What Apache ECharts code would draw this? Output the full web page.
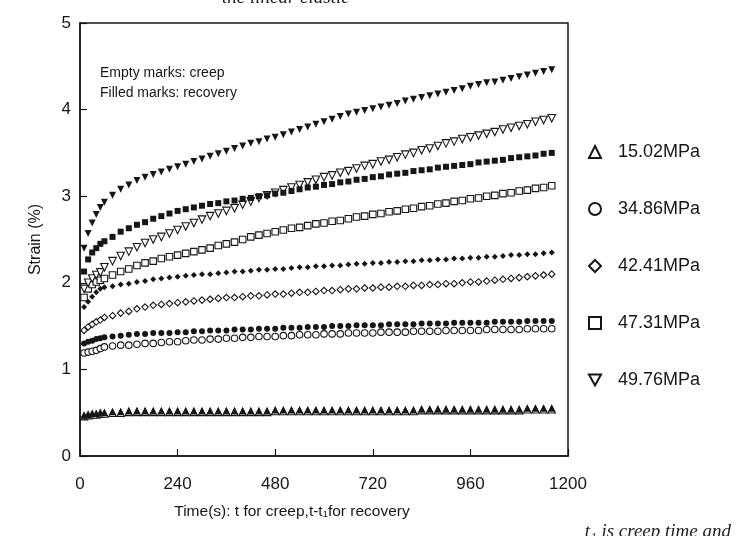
<!DOCTYPE html>
<html>
<head>
<meta charset="utf-8">
<title>Creep and recovery strain</title>
<script src="https://cdn.jsdelivr.net/npm/echarts@6/dist/echarts.min.js"></script>
<style>
  html, body { margin: 0; background: #fff; }
  #chart { width: 739px; height: 536px; }
</style>
</head>
<body>
<div id="chart"></div>
<script>
// Creep (empty marks) and recovery (filled marks) strain vs time, five stress levels.

// time axis, seconds (t for creep, t - t1 for recovery)
const times = [10, 20, 30, 40, 50, 60, 80, 100, 120, 140,
  160, 180, 200, 220, 240, 260, 280, 300, 320, 340,
  360, 380, 400, 420, 440, 460, 480, 500, 520, 540,
  560, 580, 600, 620, 640, 660, 680, 700, 720, 740,
  760, 780, 800, 820, 840, 860, 880, 900, 920, 940,
  960, 980, 1000, 1020, 1040, 1060, 1080, 1100, 1120, 1140,
  1160];

const stressLabels = ['15.02MPa', '34.86MPa', '42.41MPa', '47.31MPa', '49.76MPa'];
const xTicks = [0, 240, 480, 720, 960, 1200];
const yTicks = [0, 1, 2, 3, 4, 5];

// strain (%) - creep
const creep15 = [0.46, 0.47, 0.48, 0.48, 0.49, 0.49, 0.50, 0.50, 0.51, 0.51,
  0.51, 0.51, 0.51, 0.51, 0.51, 0.51, 0.51, 0.51, 0.51, 0.51,
  0.51, 0.51, 0.51, 0.51, 0.51, 0.51, 0.52, 0.52, 0.52, 0.52,
  0.52, 0.52, 0.52, 0.52, 0.52, 0.52, 0.52, 0.52, 0.52, 0.52,
  0.52, 0.52, 0.52, 0.52, 0.53, 0.53, 0.53, 0.53, 0.53, 0.53,
  0.53, 0.53, 0.53, 0.53, 0.53, 0.53, 0.53, 0.54, 0.54, 0.54,
  0.54];
const creep34 = [1.19, 1.20, 1.21, 1.22, 1.24, 1.26, 1.27, 1.28, 1.28, 1.29,
  1.30, 1.30, 1.31, 1.32, 1.32, 1.33, 1.34, 1.34, 1.35, 1.35,
  1.36, 1.36, 1.37, 1.37, 1.38, 1.38, 1.38, 1.39, 1.39, 1.40,
  1.40, 1.40, 1.41, 1.41, 1.41, 1.42, 1.42, 1.42, 1.42, 1.43,
  1.43, 1.43, 1.43, 1.44, 1.44, 1.44, 1.44, 1.45, 1.45, 1.45,
  1.45, 1.45, 1.46, 1.46, 1.46, 1.46, 1.46, 1.47, 1.47, 1.47,
  1.47];
const creep42 = [1.45, 1.49, 1.52, 1.55, 1.57, 1.60, 1.62, 1.65, 1.67, 1.70,
  1.72, 1.74, 1.75, 1.76, 1.77, 1.78, 1.79, 1.80, 1.81, 1.82,
  1.83, 1.83, 1.84, 1.85, 1.85, 1.86, 1.87, 1.87, 1.88, 1.89,
  1.89, 1.90, 1.91, 1.91, 1.92, 1.93, 1.93, 1.94, 1.94, 1.95,
  1.95, 1.96, 1.96, 1.97, 1.97, 1.98, 1.98, 1.99, 1.99, 2.00,
  2.01, 2.01, 2.02, 2.03, 2.04, 2.05, 2.06, 2.07, 2.08, 2.09,
  2.10];
const creep47 = [1.83, 1.93, 1.98, 2.01, 2.03, 2.05, 2.09, 2.13, 2.16, 2.20,
  2.23, 2.25, 2.28, 2.30, 2.32, 2.34, 2.36, 2.38, 2.40, 2.43,
  2.45, 2.47, 2.50, 2.53, 2.55, 2.57, 2.59, 2.61, 2.63, 2.64,
  2.66, 2.68, 2.69, 2.71, 2.72, 2.74, 2.76, 2.77, 2.79, 2.80,
  2.82, 2.83, 2.85, 2.86, 2.88, 2.89, 2.91, 2.92, 2.94, 2.95,
  2.97, 2.98, 3.00, 3.01, 3.03, 3.04, 3.06, 3.07, 3.09, 3.10,
  3.12];
const creep49 = [1.93, 2.00, 2.05, 2.09, 2.12, 2.18, 2.25, 2.31, 2.36, 2.41,
  2.46, 2.50, 2.53, 2.57, 2.61, 2.65, 2.69, 2.73, 2.77, 2.80,
  2.83, 2.86, 2.90, 2.94, 2.98, 3.01, 3.04, 3.07, 3.10, 3.13,
  3.16, 3.19, 3.22, 3.24, 3.27, 3.29, 3.32, 3.35, 3.37, 3.40,
  3.42, 3.45, 3.48, 3.50, 3.53, 3.55, 3.58, 3.61, 3.63, 3.66,
  3.68, 3.70, 3.72, 3.74, 3.77, 3.79, 3.81, 3.83, 3.86, 3.88,
  3.90];

// strain (%) - recovery
const recov15 = [0.47, 0.48, 0.49, 0.49, 0.50, 0.50, 0.51, 0.51, 0.52, 0.52,
  0.52, 0.52, 0.52, 0.52, 0.52, 0.52, 0.52, 0.52, 0.52, 0.52,
  0.52, 0.52, 0.52, 0.52, 0.52, 0.52, 0.53, 0.53, 0.53, 0.53,
  0.53, 0.53, 0.53, 0.53, 0.53, 0.53, 0.53, 0.53, 0.53, 0.53,
  0.53, 0.53, 0.53, 0.53, 0.54, 0.54, 0.54, 0.54, 0.54, 0.54,
  0.54, 0.54, 0.54, 0.54, 0.54, 0.54, 0.54, 0.55, 0.55, 0.55,
  0.55];
const recov34 = [1.30, 1.32, 1.33, 1.35, 1.36, 1.37, 1.38, 1.39, 1.40, 1.41,
  1.41, 1.42, 1.42, 1.42, 1.43, 1.43, 1.44, 1.44, 1.45, 1.45,
  1.45, 1.46, 1.46, 1.46, 1.47, 1.47, 1.47, 1.48, 1.48, 1.48,
  1.49, 1.49, 1.49, 1.50, 1.50, 1.50, 1.51, 1.51, 1.51, 1.51,
  1.52, 1.52, 1.52, 1.52, 1.53, 1.53, 1.53, 1.53, 1.54, 1.54,
  1.54, 1.54, 1.54, 1.55, 1.55, 1.55, 1.55, 1.56, 1.56, 1.56,
  1.56];
const recov42 = [1.72, 1.78, 1.84, 1.89, 1.93, 1.95, 1.96, 1.98, 1.99, 2.01,
  2.02, 2.04, 2.05, 2.06, 2.07, 2.08, 2.09, 2.10, 2.10, 2.11,
  2.12, 2.13, 2.13, 2.14, 2.15, 2.15, 2.16, 2.16, 2.17, 2.18,
  2.18, 2.19, 2.19, 2.20, 2.20, 2.21, 2.22, 2.22, 2.23, 2.23,
  2.24, 2.24, 2.25, 2.25, 2.26, 2.26, 2.27, 2.27, 2.28, 2.28,
  2.29, 2.29, 2.30, 2.30, 2.31, 2.32, 2.32, 2.33, 2.33, 2.34,
  2.35];
const recov47 = [2.13, 2.27, 2.35, 2.40, 2.45, 2.48, 2.53, 2.59, 2.63, 2.67,
  2.70, 2.74, 2.77, 2.80, 2.83, 2.85, 2.87, 2.89, 2.91, 2.92,
  2.94, 2.95, 2.97, 2.98, 3.00, 3.01, 3.03, 3.04, 3.06, 3.08,
  3.10, 3.11, 3.13, 3.14, 3.16, 3.17, 3.19, 3.20, 3.22, 3.23,
  3.25, 3.26, 3.27, 3.29, 3.30, 3.31, 3.33, 3.34, 3.35, 3.36,
  3.37, 3.39, 3.40, 3.41, 3.42, 3.44, 3.45, 3.46, 3.47, 3.49,
  3.50];
const recov49 = [2.40, 2.57, 2.69, 2.79, 2.87, 2.93, 3.01, 3.08, 3.13, 3.18,
  3.22, 3.25, 3.28, 3.31, 3.34, 3.37, 3.40, 3.43, 3.46, 3.49,
  3.52, 3.55, 3.58, 3.61, 3.63, 3.66, 3.68, 3.71, 3.74, 3.77,
  3.80, 3.83, 3.86, 3.89, 3.92, 3.95, 3.97, 3.99, 4.01, 4.03,
  4.05, 4.07, 4.10, 4.12, 4.14, 4.16, 4.18, 4.20, 4.22, 4.24,
  4.27, 4.29, 4.31, 4.32, 4.34, 4.36, 4.38, 4.40, 4.42, 4.44,
  4.46];

const INK = '#161616';
const FONT = "'Liberation Sans', Arial, Helvetica, sans-serif";
const SERIF = "'Liberation Serif', 'DejaVu Serif', serif";

// one marker per stress level; the last one is a downward triangle
const DOWN_TRIANGLE = 'path://M0,0 L10,0 L5,9 Z';
const marks = [
  { symbol: 'triangle', size: 7 },
  { symbol: 'circle', size: 6 },
  { symbol: 'diamond', size: 6 },
  { symbol: 'rect', size: 6 },
  { symbol: DOWN_TRIANGLE, size: 7 },
];

const creepSets = [creep15, creep34, creep42, creep47, creep49];
const recovSets = [recov15, recov34, recov42, recov47, recov49];

function toPoints(vals) {
  return times.map((t, i) => [t, vals[i]]);
}

function makeSeries(name, vals, mark, filled) {
  return {
    name: name,
    type: 'scatter',
    data: toPoints(vals),
    symbol: mark.symbol,
    symbolSize: filled ? mark.size : mark.size + 0.5,
    itemStyle: filled
      ? { color: INK, borderWidth: 0, opacity: 1 }
      : { color: '#fff', borderColor: INK, borderWidth: 1.1, opacity: 1 },
    emphasis: { disabled: true },
  };
}

const series = [];
stressLabels.forEach((lab, i) => {
  series.push(makeSeries(lab, creepSets[i], marks[i], false));
});
stressLabels.forEach((lab, i) => {
  series.push(makeSeries(lab + ' recovery', recovSets[i], marks[i], true));
});

const chart = echarts.init(document.getElementById('chart'), null, { renderer: 'canvas' });

chart.setOption({
  animation: false,
  backgroundColor: '#fff',
  textStyle: { fontFamily: FONT, color: INK },
  grid: {
    left: 80, right: 171, top: 23, bottom: 80,
    show: true, borderColor: INK, borderWidth: 1.5, backgroundColor: 'transparent',
  },
  xAxis: {
    type: 'value',
    min: xTicks[0],
    max: xTicks[xTicks.length - 1],
    interval: xTicks[1] - xTicks[0],
    name: 'Time(s): t for creep,t-t\u2081for recovery',
    nameLocation: 'middle',
    nameGap: 48,
    nameTextStyle: { fontSize: 15.5, color: INK, padding: [0, 64, 0, 0] },
    axisLine: { lineStyle: { color: INK, width: 1.5 } },
    axisTick: { inside: true, length: 7, lineStyle: { color: INK, width: 1.2 } },
    axisLabel: { fontSize: 17, color: INK, margin: 20, formatter: (v) => String(v) },
    splitLine: { show: false },
  },
  yAxis: {
    type: 'value',
    min: yTicks[0],
    max: yTicks[yTicks.length - 1],
    interval: yTicks[1] - yTicks[0],
    name: 'Strain (%)',
    nameLocation: 'middle',
    nameGap: 36,
    nameTextStyle: { fontSize: 16, color: INK },
    axisLine: { lineStyle: { color: INK, width: 1.5 } },
    axisTick: { inside: true, length: 7, lineStyle: { color: INK, width: 1.2 } },
    axisLabel: { fontSize: 17, color: INK, margin: 9 },
    splitLine: { show: false },
  },
  legend: {
    data: stressLabels,
    orient: 'vertical',
    left: 583,
    top: 138,
    itemWidth: 12,
    itemHeight: 12,
    itemGap: 39,
    selectedMode: false,
    textStyle: { fontSize: 18, color: INK, padding: [0, 0, 0, 12] },
  },
  graphic: [
    { type: 'text', left: 100, top: 66, style: { text: 'Empty marks: creep', font: '14px ' + FONT, fill: INK } },
    { type: 'text', left: 100, top: 86, style: { text: 'Filled marks: recovery', font: '14px ' + FONT, fill: INK } },
    { type: 'text', left: 222, top: -12, style: { text: 'the linear elastic', font: 'italic 19px ' + SERIF, fill: '#222' } },
    { type: 'text', right: 8, top: 522, style: { text: 't\u2081 is creep time and', font: 'italic 19px ' + SERIF, fill: '#222' } },
  ],
  series: series,
});
</script>
</body>
</html>
